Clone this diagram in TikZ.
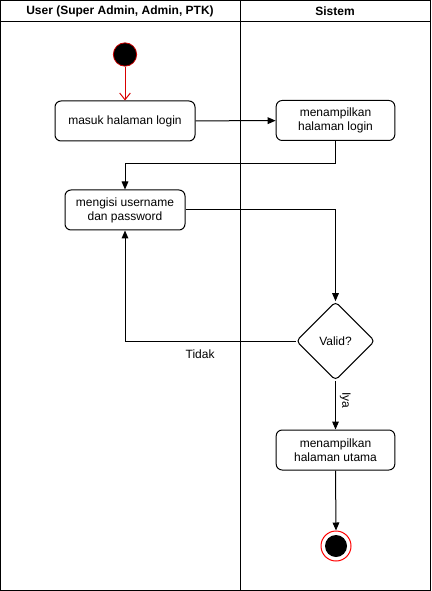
\documentclass[tikz,border=0pt]{standalone}
\usepackage{fontspec}
\setmainfont{Liberation Sans}
\usetikzlibrary{arrows.meta,shapes.geometric}
\begin{document}
\begin{tikzpicture}[x=0.75pt,y=-0.75pt,
  every node/.style={font=\fontsize{9}{10.5}\selectfont, inner sep=0pt},
  actbox/.style={draw, rounded corners=4.5pt, line width=0.75pt, align=center},
  flow/.style={line width=0.75pt, -{Triangle[length=6pt,width=5pt]}},
  lane/.style={line width=0.75pt}]
\useasboundingbox (0,0) rectangle (431,591);
% lanes
\draw[lane] (0.5,0.5) rectangle (430.5,590.5);
\draw[lane] (0.5,22) -- (430.5,22);
\draw[lane] (240,0.5) -- (240,590.5);
\node[font=\bfseries\fontsize{9}{10.5}\selectfont] (h1) at (120,11) {User (Super Admin, Admin, PTK)};
\node[font=\bfseries\fontsize{9}{10.5}\selectfont] (h2) at (335,11) {Sistem};
% nodes
\node[circle, fill=black, draw=red!80!black, line width=0.6pt, minimum size=17.5pt] (start) at (125,54.5) {};
\node[actbox, minimum width=105pt, minimum height=30pt] (a1) at (125,121) {masuk halaman login};
\node[actbox, minimum width=89pt, minimum height=30pt] (s1) at (335.5,120.5) {menampilkan\\halaman login};
\node[actbox, minimum width=90pt, minimum height=30pt] (a2) at (125,210) {mengisi username\\dan password};
\node[diamond, draw, line width=0.75pt, rounded corners=3pt, minimum width=59pt, minimum height=59pt, aspect=1] (d) at (335.5,341) {Valid?};
\node[actbox, minimum width=89pt, minimum height=30pt] (s2) at (335.5,450) {menampilkan\\halaman utama};
\node[circle, draw=red, line width=0.75pt, minimum size=22.5pt] (end) at (336,546) {};
\node[circle, fill=black, minimum size=16.5pt] (endin) at (336,546) {};
% connectors
\draw[line width=0.75pt, draw=red!85!black, -{Straight Barb[length=5pt,width=8pt]}] (start) -- (a1);
\draw[flow] (a1) -- (s1);
\draw[flow] (s1.south) -- ++(0,23) -| (a2.north);
\draw[flow] (a2.east) -| (d.north);
\draw[flow] (d.west) -| (a2.south) node[pos=0.28, below=6pt] (lt) {Tidak};
\draw[flow] (d.south) -- (s2.north) node[pos=0.4, right=3pt, rotate=-90, anchor=south] (ly) {Iya};
\draw[flow] (s2.south) -- (end.north);
\end{tikzpicture}
\end{document}
